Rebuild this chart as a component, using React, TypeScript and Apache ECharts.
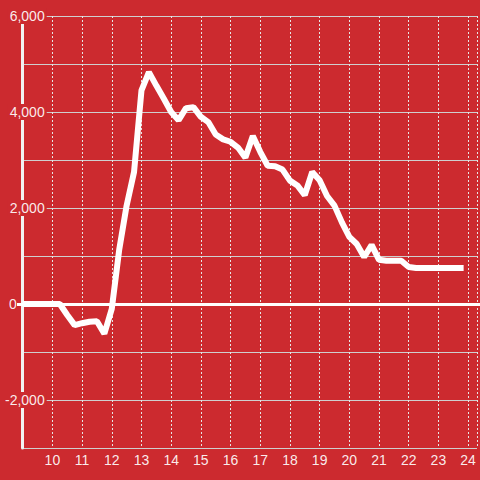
import React, { useEffect, useRef } from "react";
import * as echarts from "echarts";

const hours: number[] = [
  9, 9.25, 9.5, 9.75, 10, 10.25, 10.5, 10.75, 11, 11.25, 11.5, 11.75, 12,
  12.25, 12.5, 12.75, 13, 13.25, 13.5, 13.75, 14, 14.25, 14.5, 14.75, 15,
  15.25, 15.5, 15.75, 16, 16.25, 16.5, 16.75, 17, 17.25, 17.5, 17.75, 18,
  18.25, 18.5, 18.75, 19, 19.25, 19.5, 19.75, 20, 20.25, 20.5, 20.75, 21,
  21.25, 21.5, 21.75, 22, 22.25, 22.5, 22.75, 23, 23.25, 23.5, 23.85,
];
const values: number[] = [
  0, 0, 0, 0, 0, 0, -230, -440, -400, -370, -360, -620, -100,
  1130, 2050, 2750, 4450, 4830, 4550, 4280, 4000, 3830, 4080, 4100, 3900,
  3790, 3530, 3430, 3380, 3260, 3050, 3500, 3170, 2880, 2870, 2800, 2570,
  2470, 2270, 2750, 2580, 2250, 2050, 1700, 1400, 1250, 980, 1230, 920,
  900, 900, 900, 770, 750, 750, 750, 750, 750, 750, 750,
];

const BG = "#cc2a2f";
const TEXT = "rgba(255,255,255,0.92)";

export default function App() {
  const ref = useRef<HTMLDivElement>(null);
  useEffect(() => {
    if (!ref.current) return;
    const chart = echarts.init(ref.current, undefined, { renderer: "svg" });
    chart.setOption({
      animation: false,
      backgroundColor: BG,
      grid: { left: 21, right: 0, top: 16, bottom: 32 },
      xAxis: {
        type: "value",
        min: 9,
        max: 24.3,
        interval: 1,
        axisLine: { show: false },
        axisTick: { show: false },
        axisLabel: {
          color: TEXT,
          fontSize: 14,
          fontFamily: "Liberation Sans, Arial, sans-serif",
          margin: 5,
          formatter: (v: number) => (Number.isInteger(v) && v > 9 ? String(v) : ""),
        },
        splitLine: {
          show: true,
          lineStyle: { color: "#e6e6e6", width: 1, type: [2, 2] },
        },
      },
      yAxis: {
        type: "value",
        min: -3000,
        max: 6000,
        interval: 1000,
        axisLine: { show: true, lineStyle: { color: "#f2f2f2", width: 3 } },
        axisTick: { show: false },
        axisLabel: {
          color: TEXT,
          fontSize: 14,
          fontFamily: "Liberation Sans, Arial, sans-serif",
          margin: -24,
          formatter: (v: number) => {
            if (v % 2000 !== 0) return "";
            if (v === 0) return "{z|0}";
            return "{a|" + v.toLocaleString("en-US") + "}";
          },
          rich: {
            a: {
              color: TEXT,
              fontSize: 14,
              fontFamily: "Liberation Sans, Arial, sans-serif",
              backgroundColor: BG,
              padding: [1, 2, 1, 2],
            },
            z: {
              color: TEXT,
              fontSize: 14,
              fontFamily: "Liberation Sans, Arial, sans-serif",
              padding: [1, 30, 1, 0],
            },
          },
        },
        splitLine: { show: true, lineStyle: { color: "#cfcfcf", width: 1 } },
      },
      series: [
        {
          type: "line",
          data: hours.map((h, i) => [h, values[i]]),
          symbol: "none",
          lineStyle: { color: "#ffffff", width: 6 },
          markLine: {
            silent: true,
            symbol: "none",
            label: { show: false },
            lineStyle: { color: "#ffffff", width: 3, type: "solid" },
            data: [[{ x: 17, yAxis: 0 }, { x: 480, yAxis: 0 }]],
          },
        },
      ],
    });
    return () => chart.dispose();
  }, []);
  return (
    <div
      ref={ref}
      style={{ position: "fixed", left: 0, top: 0, width: 480, height: 480 }}
    />
  );
}
